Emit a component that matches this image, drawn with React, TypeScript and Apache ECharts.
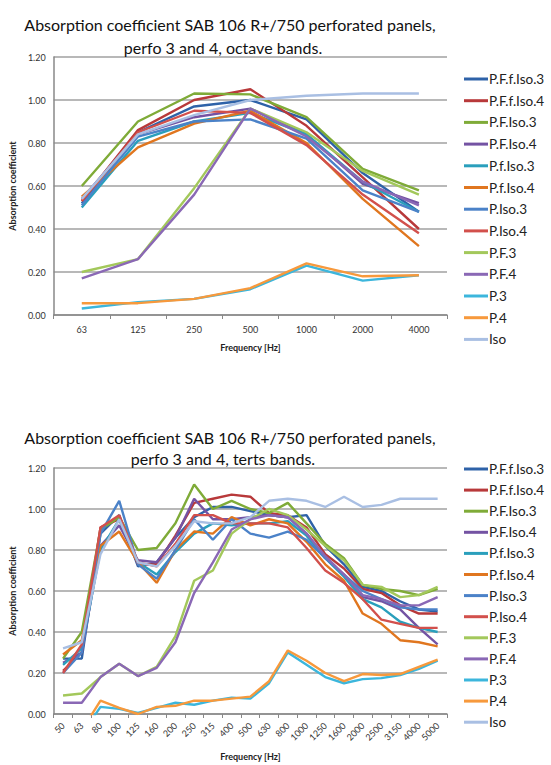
import React, { useEffect, useRef } from "react";
import * as echarts from "echarts";

const seriesNames = [
  "P.F.f.Iso.3",
  "P.F.f.Iso.4",
  "P.F.Iso.3",
  "P.F.Iso.4",
  "P.f.Iso.3",
  "P.f.Iso.4",
  "P.Iso.3",
  "P.Iso.4",
  "P.F.3",
  "P.F.4",
  "P.3",
  "P.4",
  "Iso",
];

const seriesColors = [
  "#2E62A8",
  "#B8393A",
  "#7FAB38",
  "#7453A3",
  "#2A9FBC",
  "#E0761F",
  "#4B82C8",
  "#D2504C",
  "#A3C85B",
  "#8A68B5",
  "#3CB6DC",
  "#F7993C",
  "#A9BFE3",
];

const octaveBands = ["63", "125", "250", "500", "1000", "2000", "4000"];

const octPFfIso3 = [0.52, 0.85, 0.97, 1.0, 0.91, 0.66, 0.48];
const octPFfIso4 = [0.53, 0.86, 1.0, 1.05, 0.88, 0.64, 0.4];
const octPFIso3 = [0.6, 0.9, 1.03, 1.026, 0.92, 0.68, 0.58];
const octPFIso4 = [0.54, 0.84, 0.92, 0.96, 0.84, 0.61, 0.52];
const octPfIso3 = [0.5, 0.81, 0.9, 0.94, 0.84, 0.62, 0.48];
const octPfIso4 = [0.55, 0.78, 0.89, 0.95, 0.8, 0.54, 0.32];
const octPIso3 = [0.51, 0.83, 0.9, 0.91, 0.82, 0.58, 0.48];
const octPIso4 = [0.53, 0.85, 0.95, 0.94, 0.79, 0.56, 0.38];
const octPF3 = [0.2, 0.26, 0.59, 0.96, 0.85, 0.67, 0.56];
const octPF4 = [0.17, 0.26, 0.56, 0.96, 0.83, 0.62, 0.51];
const octP3 = [0.03, 0.06, 0.075, 0.12, 0.23, 0.16, 0.185];
const octP4 = [0.055, 0.055, 0.075, 0.125, 0.24, 0.18, 0.185];
const octIso = [0.54, 0.84, 0.93, 1.0, 1.02, 1.03, 1.03];

const tertsBands = [
  "50", "63", "80", "100", "125", "160", "200", "250", "315", "400", "500",
  "630", "800", "1000", "1250", "1600", "2000", "2500", "3150", "4000", "5000",
];

const terPFfIso3 = [0.27, 0.27, 0.88, 0.97, 0.72, 0.74, 0.86, 0.96, 1.01, 1.01, 0.99, 0.97, 0.96, 0.97, 0.82, 0.73, 0.62, 0.6, 0.55, 0.51, 0.5];
const terPFfIso4 = [0.21, 0.3, 0.91, 0.95, 0.73, 0.73, 0.87, 1.03, 1.05, 1.07, 1.06, 0.98, 0.97, 0.91, 0.78, 0.71, 0.61, 0.59, 0.53, 0.49, 0.49];
const terPFIso3 = [0.27, 0.4, 0.9, 0.96, 0.8, 0.81, 0.93, 1.12, 1.0, 1.04, 1.0, 0.98, 1.03, 0.93, 0.83, 0.76, 0.63, 0.61, 0.6, 0.58, 0.61];
const terPFIso4 = [0.25, 0.3, 0.82, 0.92, 0.75, 0.74, 0.86, 1.05, 0.95, 0.95, 0.96, 0.97, 0.96, 0.88, 0.76, 0.68, 0.57, 0.55, 0.51, 0.42, 0.34];
const terPfIso3 = [0.24, 0.32, 0.8, 0.95, 0.74, 0.68, 0.79, 0.88, 0.93, 0.92, 0.93, 0.93, 0.94, 0.87, 0.76, 0.67, 0.56, 0.52, 0.45, 0.42, 0.4];
const terPfIso4 = [0.29, 0.36, 0.82, 0.89, 0.74, 0.64, 0.8, 0.89, 0.88, 0.96, 0.92, 0.95, 0.93, 0.84, 0.73, 0.65, 0.49, 0.44, 0.36, 0.35, 0.33];
const terPIso3 = [0.2, 0.3, 0.88, 1.04, 0.73, 0.66, 0.8, 0.95, 0.85, 0.95, 0.88, 0.86, 0.89, 0.85, 0.76, 0.68, 0.6, 0.56, 0.52, 0.51, 0.51];
const terPIso4 = [0.2, 0.34, 0.91, 0.97, 0.74, 0.72, 0.83, 0.97, 0.97, 0.93, 0.93, 0.93, 0.91, 0.81, 0.7, 0.64, 0.56, 0.46, 0.44, 0.42, 0.42];
const terPF3 = [0.09, 0.1, 0.18, 0.245, 0.185, 0.23, 0.38, 0.65, 0.7, 0.88, 0.95, 1.0, 0.97, 0.9, 0.82, 0.75, 0.63, 0.62, 0.57, 0.58, 0.62];
const terPF4 = [0.055, 0.055, 0.18, 0.245, 0.185, 0.225, 0.35, 0.59, 0.74, 0.9, 0.95, 0.97, 0.96, 0.88, 0.77, 0.68, 0.58, 0.56, 0.53, 0.53, 0.57];
const terP3 = [-0.1, -0.1, 0.035, 0.025, 0.005, 0.03, 0.055, 0.045, 0.065, 0.08, 0.075, 0.15, 0.3, 0.24, 0.18, 0.15, 0.17, 0.175, 0.19, 0.22, 0.26];
const terP4 = [-0.1, -0.08, 0.065, 0.03, 0.0, 0.035, 0.04, 0.065, 0.065, 0.075, 0.085, 0.16, 0.31, 0.26, 0.2, 0.16, 0.195, 0.19, 0.195, 0.23, 0.265];
const terIso = [0.32, 0.35, 0.78, 0.95, 0.74, 0.72, 0.82, 0.94, 0.93, 0.93, 0.96, 1.04, 1.05, 1.04, 1.01, 1.06, 1.01, 1.02, 1.05, 1.05, 1.05];

const yTicksMin = 0;
const yTicksMax = 1.2;
const yTicksStep = 0.2;

const octaveData = [octPFfIso3, octPFfIso4, octPFIso3, octPFIso4, octPfIso3, octPfIso4, octPIso3, octPIso4, octPF3, octPF4, octP3, octP4, octIso];
const tertsData = [terPFfIso3, terPFfIso4, terPFIso3, terPFIso4, terPfIso3, terPfIso4, terPIso3, terPIso4, terPF3, terPF4, terP3, terP4, terIso];

const FONT = "Lato, 'Open Sans', sans-serif";

export default function App() {
  const ref = useRef<HTMLDivElement>(null);

  useEffect(() => {
    if (!ref.current) return;
    const chart = echarts.init(ref.current, undefined, { renderer: "svg" });

    const titleStyle = { fontFamily: FONT, fontSize: 16, fontWeight: "normal" as const, color: "#111" };
    const axisNameStyle = { fontFamily: FONT, fontSize: 9, fontWeight: "bold" as const, color: "#222" };
    const labelStyle = { fontFamily: FONT, fontSize: 9, color: "#333" };

    const makeXAxis = (gridIndex: number, data: string[], rotate: number, nameGap: number) => ({
      type: "category" as const,
      gridIndex,
      data,
      boundaryGap: true,
      name: "Frequency [Hz]",
      nameLocation: "middle" as const,
      nameGap,
      nameTextStyle: axisNameStyle,
      axisLine: { show: true, lineStyle: { color: "#888", width: 1.5 } },
      axisTick: { show: true, alignWithLabel: false, length: 4, lineStyle: { color: "#888" } },
      axisLabel: { ...labelStyle, rotate, margin: 10, interval: 0 },
      splitLine: { show: false },
    });

    const makeYAxis = (gridIndex: number) => ({
      type: "value" as const,
      gridIndex,
      min: yTicksMin,
      max: yTicksMax,
      interval: yTicksStep,
      name: "Absorption coefficient",
      nameLocation: "middle" as const,
      nameGap: 31,
      nameRotate: 90,
      nameTextStyle: axisNameStyle,
      axisLine: { show: true, lineStyle: { color: "#888", width: 1.5 } },
      axisTick: { show: false },
      axisLabel: { ...labelStyle, margin: 8, formatter: (v: number) => v.toFixed(2) },
      splitLine: { show: true, lineStyle: { color: "#a0a0a0", width: 1.5 } },
    });

    const makeSeries = (idx: number, data: number[][]) =>
      seriesNames.map((name, i) => ({
        type: "line" as const,
        name,
        xAxisIndex: idx,
        yAxisIndex: idx,
        data: data[i],
        symbol: "none",
        lineStyle: { width: 2.4, color: seriesColors[i] },
        itemStyle: { color: seriesColors[i] },
        clip: true,
        z: 2,
      }));

    const legendCommon = {
      orient: "vertical" as const,
      left: 459,
      icon: "rect",
      itemWidth: 24,
      itemHeight: 3,
      data: seriesNames,
      selectedMode: false,
      textStyle: { fontFamily: FONT, fontSize: 13.5, color: "#222", lineHeight: 14, padding: [0, 0, 0, -4] },
    };

    chart.setOption({
      animation: false,
      backgroundColor: "#fff",
      color: seriesColors,
      title: [
        { text: "Absorption coefficient SAB 106 R+/750 perforated panels,", left: 225, top: 11, textAlign: "center", textStyle: titleStyle },
        { text: "perfo 3 and 4, octave bands.", left: 218, top: 34, textAlign: "center", textStyle: titleStyle },
        { text: "Absorption coefficient SAB 106 R+/750 perforated panels,", left: 225, top: 424, textAlign: "center", textStyle: titleStyle },
        { text: "perfo 3 and 4, terts bands.", left: 218, top: 445, textAlign: "center", textStyle: titleStyle },
      ],
      legend: [
        { ...legendCommon, top: 67, itemGap: 7.7 },
        { ...legendCommon, top: 457, itemGap: 7.1 },
      ],
      grid: [
        { left: 52, right: 104, top: 57, bottom: 450, containLabel: false },
        { left: 52, right: 104, top: 468, bottom: 51, containLabel: false },
      ],
      xAxis: [makeXAxis(0, octaveBands, 0, 28), makeXAxis(1, tertsBands, 45, 38)],
      yAxis: [makeYAxis(0), makeYAxis(1)],
      series: [...makeSeries(0, octaveData), ...makeSeries(1, tertsData)],
    });

    return () => chart.dispose();
  }, []);

  return <div ref={ref} style={{ width: 551, height: 765, position: "absolute", left: 0, top: 0 }} />;
}
